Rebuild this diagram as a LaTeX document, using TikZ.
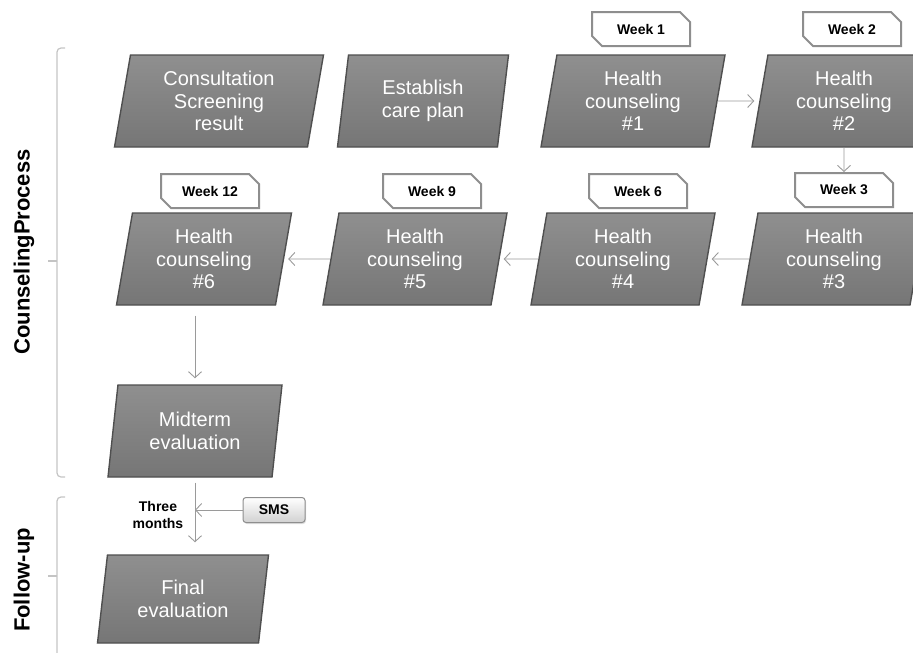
\documentclass[tikz,border=0pt]{standalone}
\usepackage{fontspec}
\setmainfont{Liberation Sans}
\usepackage{tikz}
\usetikzlibrary{shapes.geometric, shapes.misc, arrows.meta, shadows}
\definecolor{cajagris}{HTML}{808080}
\definecolor{bordegris}{HTML}{4F4F4F}
\definecolor{etiqgris}{HTML}{8E8E8E}
\definecolor{flechagris}{HTML}{9A9A9A}
\definecolor{llavegris}{HTML}{C4C4C4}
\tikzstyle{flow} = [draw=flechagris, line width=0.9pt, -{Straight Barb[length=6pt,width=13pt]}]

\begin{document}
\begin{tikzpicture}[x=1pt,y=-1pt]
		\tikzstyle{proc} = [trapezium, trapezium left angle=75, trapezium right angle=105, trapezium stretches body, minimum width=184pt, minimum height=92pt, inner sep=0pt, draw=bordegris, line width=1.4pt, top color=cajagris!88!white, bottom color=cajagris!92!black, text=white, align=center, font=\fontsize{20}{22.5}\selectfont]
		\tikzstyle{weektag} = [chamfered rectangle, chamfered rectangle corners={north east,south west}, chamfered rectangle sep=5pt, draw=etiqgris, line width=2pt, fill=white, minimum width=98pt, minimum height=34pt, inner sep=0pt, font=\fontsize{14}{16}\selectfont\bfseries]
		\tikzstyle{bracket} = [draw=llavegris, line width=1.2pt, rounded corners=4pt]
		\useasboundingbox (0,0) rectangle (913,653);
		
		% Fila superior
		\node[proc, minimum width=209pt] (consult) at (219,101) {Consultation\\Screening\\result};
		\node[proc, minimum width=171pt] (plan) at (423,101) {Establish\\care plan};
		\node[proc] (hc1) at (633,101) {Health\\counseling\\\#1};
		\node[proc] (hc2) at (844,101) {Health\\counseling\\\#2};
		
		% Fila de abajo
		\node[proc] (hc3) at (834,259) {Health\\counseling\\\#3};
		\node[proc] (hc4) at (623,259) {Health\\counseling\\\#4};
		\node[proc] (hc5) at (415,259) {Health\\counseling\\\#5};
		\node[proc, minimum width=175pt] (hc6) at (204,259) {Health\\counseling\\\#6};
		
		% Evaluaciones
		\node[proc, minimum width=174pt] (mid) at (195,431) {Midterm\\evaluation};
		\node[proc, minimum width=171pt, minimum height=88pt] (final) at (183,599) {Final\\evaluation};
		
		% Etiquetas de semanas
		\node[weektag] (week1) at (641,29) {Week 1};
		\node[weektag] (week2) at (852,29) {Week 2};
		\node[weektag] (week3) at (844,190) {Week 3};
		\node[weektag] (week6) at (638,191) {Week 6};
		\node[weektag] (week9) at (432,191) {Week 9};
		\node[weektag] (week12) at (210,191) {Week 12};
		
		\node[draw=etiqgris, line width=1pt, rounded corners=3pt, top color=white, bottom color=black!18, drop shadow={opacity=0.25, shadow xshift=1pt, shadow yshift=-1.5pt}, minimum width=62pt, minimum height=25pt, inner sep=0pt, font=\fontsize{14}{16}\selectfont\bfseries] (sms) at (274,510) {SMS};
		\node[align=center, font=\fontsize{14}{17}\selectfont\bfseries] (three) at (158,515) {Three\\months};
		
		% Flechas
		\draw[flow, shorten >=5pt] (hc1) -- (hc2);
		\draw[flow] (hc2) -- (week3);
		\draw[flow, shorten >=4pt] (hc3) -- (hc4);
		\draw[flow, shorten >=4pt] (hc4) -- (hc5);
		\draw[flow, shorten >=4pt] (hc5) -- (hc6);
		\draw[flow, shorten <=10pt, shorten >=6pt] (hc6.south -| mid.south) -- (mid.north);
		\draw[flow, shorten <=5pt, shorten >=12pt] (mid.south) -- (mid.south |- final.north);
		\draw[flow] (sms.west) -- (sms.west -| mid.south);
		
		% Llaves laterales
		\draw[bracket] (65,48) -- (57,48) -- (57,477) -- (65,477);
		\draw[bracket] (57,261) -- (48,261);
		\draw[bracket] (65,497) -- (57,497) -- (57,670);
		\draw[bracket] (57,576) -- (48,576);
		\node[rotate=90, font=\fontsize{22}{24}\selectfont\bfseries] (lblcounsel) at (24,252) {CounselingProcess};
		\node[rotate=90, font=\fontsize{22}{24}\selectfont\bfseries] (lblfollow) at (24,580) {Follow-up};
	\end{tikzpicture}
\end{document}
